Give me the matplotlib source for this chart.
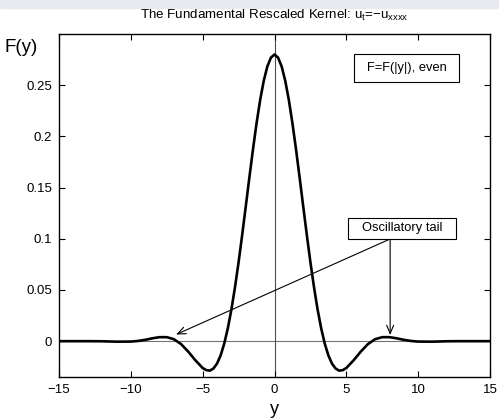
import numpy as np
import matplotlib
matplotlib.use('Agg')
import matplotlib.pyplot as plt
from matplotlib.patches import Rectangle

plt.rcParams['font.family'] = ['Liberation Sans', 'DejaVu Sans']
plt.rcParams['mathtext.fontset'] = 'custom'
plt.rcParams['mathtext.rm'] = 'Liberation Sans'

# kernel (even function)
y_vals = [-15, -14, -13, -12, -11, -10, -9.5, -9, -8.5, -8, -7.5, -7, -6.5, -6,
          -5.5, -5, -4.75, -4.5, -4.25, -4, -3.75, -3.5, -3.25, -3, -2.75,
          -2.5, -2.25, -2, -1.75, -1.5, -1.25, -1, -0.75, -0.5, -0.25, 0,
          0.25, 0.5, 0.75, 1, 1.25, 1.5, 1.75, 2, 2.25, 2.5, 2.75, 3, 3.25,
          3.5, 3.75, 4, 4.25, 4.5, 4.75, 5, 5.5, 6, 6.5, 7, 7.5, 8, 8.5, 9,
          9.5, 10, 11, 12, 13, 14, 15]
F_vals = [0.0, 0.0, 0.0, -0.0001, -0.0005, -0.0004, 0.0002, 0.0013, 0.0028,
          0.0039, 0.0039, 0.0019, -0.0029, -0.0103, -0.0188, -0.0262, -0.0283,
          -0.0288, -0.0267, -0.0219, -0.0139, -0.0025, 0.0125, 0.0309, 0.0527,
          0.0771, 0.1037, 0.1315, 0.1597, 0.1871, 0.2127, 0.2354, 0.2542,
          0.2682, 0.2769, 0.2800,
          0.2769, 0.2682, 0.2542, 0.2354, 0.2127, 0.1871, 0.1597, 0.1315,
          0.1037, 0.0771, 0.0527, 0.0309, 0.0125, -0.0025, -0.0139, -0.0219,
          -0.0267, -0.0288, -0.0283, -0.0262, -0.0188, -0.0103, -0.0029,
          0.0019, 0.0039, 0.0039, 0.0028, 0.0013, 0.0002, -0.0004, -0.0005,
          -0.0001, 0.0, 0.0, 0.0]

x_ticks = [-15, -10, -5, 0, 5, 10, 15]
x_tick_labels = ['\u221215', '\u221210', '\u22125', '0', '5', '10', '15']
y_ticks = [0, 0.05, 0.1, 0.15, 0.2, 0.25]
y_tick_labels = ['0', '0.05', '0.1', '0.15', '0.2', '0.25']

fig = plt.figure(figsize=(4.99, 4.18), dpi=100)
fig.patches.append(Rectangle((0, 1 - 8 / 418), 1, 8 / 418,
                             transform=fig.transFigure, color='#e9e9f1', zorder=0))
ax = fig.add_axes([59 / 499, 1 - 377 / 418, 431 / 499, 343 / 418])

ax.axhline(0, color='0.45', lw=0.8, zorder=1)
ax.axvline(0, color='0.3', lw=0.8, zorder=1)
ax.plot(y_vals, F_vals, color='black', lw=1.9, zorder=3)

ax.set_xlim(-15, 15)
ax.set_ylim(-0.035, 0.3)
ax.set_xticks(x_ticks)
ax.set_xticklabels(x_tick_labels)
ax.set_yticks(y_ticks)
ax.set_yticklabels(y_tick_labels)
ax.tick_params(direction='in', top=True, right=True, labelsize=9.5, length=4,
               width=0.8, pad=5)
for s in ax.spines.values():
    s.set_linewidth(1.0)

fig.text(274.5 / 499, 1 - 15 / 418,
         'The Fundamental Rescaled Kernel: u$_\\mathregular{t}$=\u2212u$_\\mathregular{xxxx}$',
         fontsize=9.6, ha='center', va='center')
ax.set_xlabel('y', fontsize=13, labelpad=4)
fig.text(4 / 499, 1 - 47 / 418, 'F(y)', fontsize=13.5, va='center', ha='left')

# annotation boxes
ax.add_patch(Rectangle((5.53, 0.2529), 7.31, 0.0276, fc='white', ec='black',
                       lw=0.8, zorder=5))
ax.text(9.19, 0.2668, 'F=F(|y|), even', fontsize=9.3, ha='center',
        va='center', zorder=6)
ax.add_patch(Rectangle((5.11, 0.0998), 7.52, 0.0205, fc='white', ec='black',
                       lw=0.8, zorder=5))
ax.text(8.87, 0.1101, 'Oscillatory tail', fontsize=9.3, ha='center',
        va='center', zorder=6)

start = (8.05, 0.0998)
for tip in [(-6.85, 0.0065), (8.05, 0.006)]:
    ax.annotate('', xy=tip, xytext=start,
                arrowprops=dict(arrowstyle='->,head_length=0.6,head_width=0.25',
                                lw=0.8, color='black', shrinkA=0, shrinkB=0),
                zorder=4)

fig.savefig('out.png', dpi=100)
